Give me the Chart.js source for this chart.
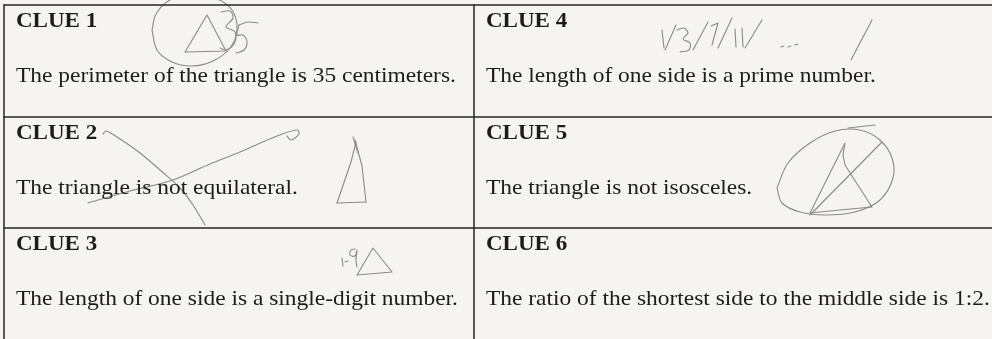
<!DOCTYPE html>
<html>
<head>
<meta charset="utf-8">
<script src="https://cdn.jsdelivr.net/npm/chart.js@4/dist/chart.umd.min.js"></script>
<style>
  html, body { margin: 0; padding: 0; background: #f6f4f0; }
  #wrap { width: 992px; height: 339px; }
</style>
</head>
<body>
<div id="wrap"><canvas id="c" width="992" height="339"></canvas></div>
<script>
// ---- content ----
const clueTitles = ["CLUE 1", "CLUE 2", "CLUE 3", "CLUE 4", "CLUE 5", "CLUE 6"];
const clueTexts = [
  "The perimeter of the triangle is 35 centimeters.",
  "The triangle is not equilateral.",
  "The length of one side is a single-digit number.",
  "The length of one side is a prime number.",
  "The triangle is not isosceles.",
  "The ratio of the shortest side to the middle side is 1:2."
];
// table rule lines (in sheet units)
const ruleRows = [5, 117, 228];
const ruleCols = [4, 474];

// pencil marks (in sheet units): straight strokes and curved strokes
const pencilLines = [
  // clue 1 triangle
  [[185,52],[207,15],[226,51],[185,52]],
  // clue 2 triangle
  [[337,203],[351,162],[356,142]],
  [[355,140],[362,166],[366,202]],
  [[337,203],[366,202]],
  [[353,137],[358,153]],
  // clue 3 "1-" and triangle
  [[342,258],[343,266]],
  [[345,262],[348,261]],
  [[357,275],[373,248],[392,272],[357,275]],
  // clue 4 "1/3/7/11/... /"
  [[662,30],[664,48]],
  [[665,50],[676,25]],
  [[693,50],[708,22]],
  [[711,26],[718,23],[712,45]],
  [[718,48],[732,18]],
  [[735,29],[736,47]],
  [[742,28],[743,47]],
  [[745,48],[762,20]],
  [[781,47],[784,46]],
  [[788,47],[791,46]],
  [[795,45],[798,44]],
  [[851,60],[872,20]],
  // clue 5 triangle and slash
  [[810,213],[845,143],[843,155],[845,165],[852,176],[872,207],[840,210],[810,213]],
  [[810,215],[882,142]]
];
const pencilCurves = [
  // clue 1 circle and "35"
  [[152,30],[157,50],[172,62],[192,66],[213,61],[230,48],[237,30],[232,10],[215,-2],[193,-5],[170,0],[156,14],[152,30]],
  [[221,12],[230,11],[233,18],[226,27],[235,32],[234,44],[226,50],[220,48]],
  [[239,25],[237,35],[243,35],[247,42],[244,50],[236,53]],
  [[239,25],[248,22],[258,23]],
  // clue 2 cross strokes
  [[103,134],[106,131],[120,139],[140,153],[160,170],[180,188],[193,205],[205,225]],
  [[88,203],[130,191],[173,180],[210,164],[240,152],[277,136],[297,130],[299,134],[291,140],[287,136]],
  // clue 3 "9"
  [[355,249],[351,250],[350,255],[355,256],[357,250],[356,260],[357,267]],
  // clue 4 "3"
  [[677,30],[684,28],[688,33],[683,39],[690,43],[689,50],[680,52]],
  // clue 5 loop
  [[777,188],[782,203],[800,212],[825,215],[855,212],[880,200],[893,178],[892,158],[880,140],[860,130],[835,131],[810,143],[788,163],[777,188]],
  [[848,128],[875,125]]
];

// ---- layout (not data) ----
const SHEET_W = 992, SHEET_H = 339;
const PAPER = '#f6f4f0';
const INK = '#1c1c1c';
const PENCIL = '#8a8a8a';
const textPadX = 12;           // from column rule to text
const titleOffset = 22;        // from row rule to title baseline
const bodyOffset = 77;         // from row rule to body baseline
const titleFont = 'bold 20px "Liberation Serif", "Times New Roman", serif';
const bodyFont = '21.5px "Liberation Serif", "Times New Roman", serif';
const titleStretch = 1.15;
const bodyStretch = 1.09;

// ---- build datasets ----
const datasets = [];
ruleRows.forEach(y => datasets.push({
  data: [{x: ruleCols[0], y: y}, {x: SHEET_W, y: y}],
  borderColor: '#262626', borderWidth: 1.5, tension: 0
}));
ruleCols.forEach(x => datasets.push({
  data: [{x: x, y: ruleRows[0]}, {x: x, y: SHEET_H}],
  borderColor: '#262626', borderWidth: 1.5, tension: 0
}));
pencilLines.forEach(stroke => datasets.push({
  data: stroke.map(p => ({x: p[0], y: p[1]})),
  borderColor: PENCIL, borderWidth: 1.1, tension: 0
}));
pencilCurves.forEach(stroke => datasets.push({
  data: stroke.map(p => ({x: p[0], y: p[1]})),
  borderColor: PENCIL, borderWidth: 1.1, tension: 0.35
}));
datasets.forEach(d => {
  d.showLine = true; d.pointRadius = 0; d.fill = false;
  d.borderCapStyle = 'round'; d.borderJoinStyle = 'round';
});

const paperPlugin = {
  id: 'paper',
  beforeDraw(chart) {
    const ctx = chart.ctx;
    ctx.save();
    ctx.fillStyle = PAPER;
    ctx.fillRect(0, 0, chart.width, chart.height);
    ctx.restore();
  }
};

const cluePlugin = {
  id: 'clues',
  afterDatasetsDraw(chart) {
    const ctx = chart.ctx;
    const xs = chart.scales.x, ys = chart.scales.y;
    const draw = (txt, x, y, font, stretch) => {
      ctx.save();
      ctx.translate(xs.getPixelForValue(x), ys.getPixelForValue(y));
      ctx.scale(stretch, 1);
      ctx.font = font;
      ctx.fillStyle = INK;
      ctx.textBaseline = 'alphabetic';
      ctx.textAlign = 'left';
      ctx.fillText(txt, 0, 0);
      ctx.restore();
    };
    clueTitles.forEach((t, i) => {
      const col = Math.floor(i / 3), row = i % 3;
      const x = ruleCols[col] + textPadX;
      draw(t, x, ruleRows[row] + titleOffset, titleFont, titleStretch);
      draw(clueTexts[i], x, ruleRows[row] + bodyOffset, bodyFont, bodyStretch);
    });
  }
};

new Chart(document.getElementById('c'), {
  type: 'scatter',
  data: { datasets },
  options: {
    responsive: false,
    animation: false,
    devicePixelRatio: 1,
    layout: { padding: 0 },
    clip: false,
    plugins: { legend: { display: false }, tooltip: { enabled: false } },
    scales: {
      x: { type: 'linear', min: 0, max: SHEET_W, display: false },
      y: { type: 'linear', min: 0, max: SHEET_H, reverse: true, display: false }
    }
  },
  plugins: [paperPlugin, cluePlugin]
});
</script>
</body>
</html>
